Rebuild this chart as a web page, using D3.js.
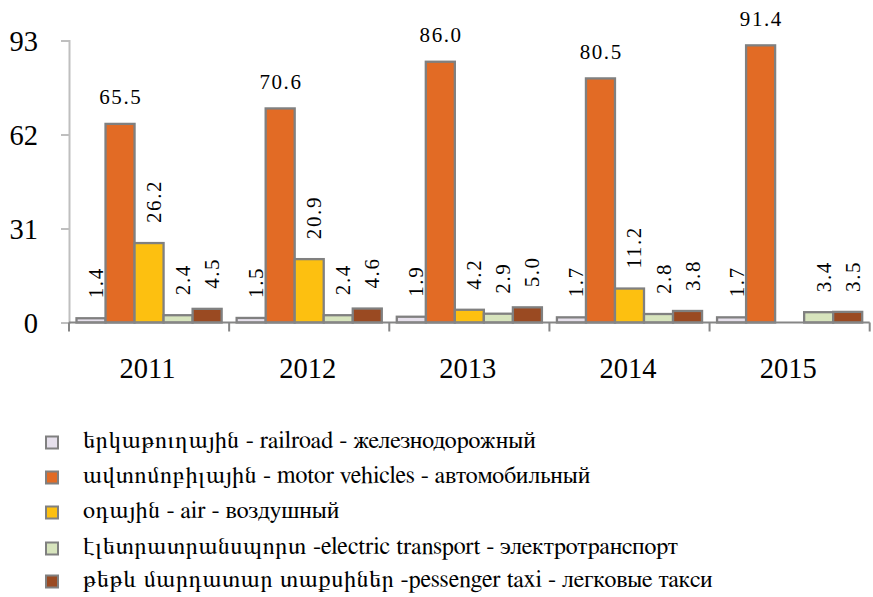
<!DOCTYPE html>
<html>
<head>
<meta charset="utf-8">
<script src="https://cdn.jsdelivr.net/npm/d3@7/dist/d3.min.js"></script>
<style>
  html, body { margin: 0; padding: 0; background: #fff; }
  svg { display: block; }
</style>
</head>
<body>
<svg id="chart" width="873" height="597"></svg>
<script>
const AXIS_FONT = "'Liberation Serif', 'Times New Roman', serif";
const LABEL_FONT = "'Liberation Serif', 'Times New Roman', serif";
const LEGEND_FONT = "'FreeSerif', 'Liberation Serif', serif";
const years = ["2011", "2012", "2013", "2014", "2015"];
const seriesNames = [
  "երկաթուղային - railroad - железнодорожный",
  "ավտոմոբիլային - motor vehicles - автомобильный",
  "օդային - air - воздушный",
  "էլետրատրանսպորտ -electric transport - электротранспорт",
  "թեթև մարդատար տաքսիներ -pessenger taxi - легковые такси"
];
const railroad = [1.4, 1.5, 1.9, 1.7, 1.7];
const motor = [65.5, 70.6, 86.0, 80.5, 91.4];
const air = [26.2, 20.9, 4.2, 11.2, null];
const electric = [2.4, 2.4, 2.9, 2.8, 3.4];
const taxi = [4.5, 4.6, 5.0, 3.8, 3.5];
const yTicks = [0, 31, 62, 93];
const colors = ["#E6E0EC", "#E26B25", "#FDC010", "#D7E4BD", "#9A4A22"];

const seriesValues = [railroad, motor, air, electric, taxi];
const svg = d3.select("#chart");

const x0 = d3.scaleBand().domain(years).range([69, 869.7]).padding(0);
const x1 = d3.scaleBand().domain(d3.range(5)).range([7.5, x0.bandwidth() - 7.5]).padding(0);
const y = d3.scaleLinear().domain([0, 93]).range([322.5, 40.5]);

// Y axis
const yAxis = svg.append("g").attr("transform", "translate(69,0)")
  .call(d3.axisLeft(y).tickValues(yTicks).tickSize(8).tickPadding(23).tickFormat(d3.format("d")));
yAxis.attr("font-family", null);
yAxis.select(".domain").attr("stroke", "#BFBFBF").attr("stroke-width", 2);
yAxis.selectAll(".tick line").attr("stroke", "#BFBFBF").attr("stroke-width", 2);
yAxis.selectAll(".tick text").style("font-size", "28.5px").attr("fill", "#000")
  .style("font-family", AXIS_FONT).attr("dy", "0.35em");

// Bars
const groups = svg.append("g").selectAll("g").data(years).join("g")
  .attr("transform", d => `translate(${x0(d)},0)`);

groups.each(function(yr, yi) {
  const g = d3.select(this);
  seriesValues.forEach((vals, si) => {
    const v = vals[yi];
    if (v == null) return;
    g.append("rect")
      .attr("x", x1(si))
      .attr("y", y(v))
      .attr("width", x1.bandwidth())
      .attr("height", y(0) - y(v))
      .attr("fill", colors[si])
      .attr("stroke", "#808080")
      .attr("stroke-width", 2.3);
  });
});

// X axis
const xAxisG = svg.append("g");
xAxisG.append("line").attr("x1", 69).attr("x2", 869.7).attr("y1", y(0)).attr("y2", y(0))
  .attr("stroke", "#868686").attr("stroke-width", 2);
const boundaries = years.map(d => x0(d)).concat([x0.range()[1]]);
xAxisG.selectAll("line.tk").data(boundaries).join("line").attr("class", "tk")
  .attr("x1", d => d).attr("x2", d => d).attr("y1", y(0)).attr("y2", y(0) + 9)
  .attr("stroke", "#868686").attr("stroke-width", 2);
xAxisG.selectAll("text").data(years).join("text")
  .attr("x", d => x0(d) + x0.bandwidth() / 2 - 1.5)
  .attr("y", 378)
  .attr("text-anchor", "middle")
  .style("font-size", "28.5px")
  .style("font-family", AXIS_FONT)
  .attr("fill", "#000")
  .text(d => d);

// Data labels
const labels = svg.append("g");
years.forEach((yr, yi) => {
  seriesValues.forEach((vals, si) => {
    const v = vals[yi];
    if (v == null) return;
    const cx = x0(yr) + x1(si) + x1.bandwidth() / 2;
    const top = y(v);
    const t = labels.append("text")
      .style("font-size", "21px")
      .style("font-family", LABEL_FONT)
      .style("letter-spacing", "1.6px")
      .attr("fill", "#000")
      .text(v.toFixed(1));
    if (si === 1) {
      t.attr("x", cx + 0.8).attr("y", top - 19.5).attr("text-anchor", "middle");
    } else {
      t.attr("transform", `translate(${cx + 12},${top - 20}) rotate(-90)`)
        .attr("text-anchor", "start");
    }
  });
});

// Legend
const legendY = [442.5, 477.5, 512.5, 548.5, 581.5];
const legend = svg.append("g");
seriesNames.forEach((name, i) => {
  legend.append("rect")
    .attr("x", 46).attr("y", legendY[i] - 6)
    .attr("width", 12).attr("height", 12)
    .attr("fill", colors[i]).attr("stroke", "#808080").attr("stroke-width", 2);
  const cut = name.indexOf(" -");
  const t = legend.append("text")
    .attr("x", 83).attr("y", legendY[i] + 5.5)
    .style("font-size", "24px")
    .style("font-family", LEGEND_FONT)
    .attr("fill", "#000");
  t.append("tspan").style("letter-spacing", "0.7px").text(name.slice(0, cut));
  t.append("tspan").text(name.slice(cut));
});
</script>
</body>
</html>
